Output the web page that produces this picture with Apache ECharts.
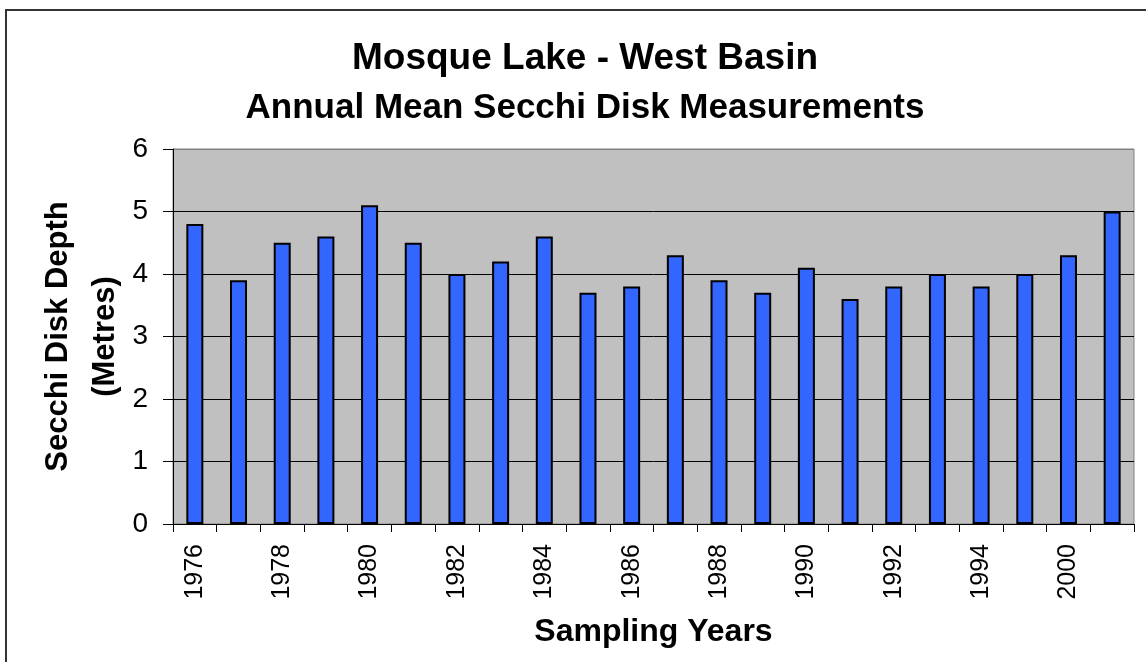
<!DOCTYPE html>
<html>
<head>
<meta charset="utf-8">
<title>Mosque Lake - West Basin</title>
<script src="https://cdn.jsdelivr.net/npm/echarts@6/dist/echarts.min.js"></script>
<style>
  html, body { margin: 0; padding: 0; background: #fff; }
  #chart { width: 1146px; height: 662px; }
</style>
</head>
<body>
<div id="chart"></div>
<script>
// sampling years (last one has no label on the axis)
const years = ['1976', '1977', '1978', '1979', '1980', '1981', '1982', '1983', '1984', '1985',
  '1986', '1987', '1988', '1989', '1990', '1991', '1992', '1993', '1994', '1995', '2000', '2001']
// annual mean secchi depth (m)
const depths = [4.8, 3.9, 4.5, 4.6, 5.1, 4.5, 4.0, 4.2, 4.6, 3.7,
  3.8, 4.3, 3.9, 3.7, 4.1, 3.6, 3.8, 4.0, 3.8, 4.0, 4.3, 5.0]
const yTicks = [0, 1, 2, 3, 4, 5, 6]

const font = "'Liberation Sans', Arial, sans-serif"
const chart = echarts.init(document.getElementById('chart'))

const option = {
  animation: false,
  backgroundColor: '#fff',
  // outer frame
  graphic: [{
    type: 'rect',
    shape: { x: 6, y: 10, width: 1200, height: 700 },
    style: { fill: 'none', stroke: '#333', lineWidth: 2 },
    silent: true
  }],
  title: {
    text: 'Mosque Lake - West Basin',
    subtext: 'Annual Mean Secchi Disk Measurements',
    left: 580,
    textAlign: 'center',
    top: 35,
    itemGap: 14,
    textStyle: { fontFamily: font, fontSize: 37, fontWeight: 'bold', color: '#000' },
    subtextStyle: { fontFamily: font, fontSize: 35, fontWeight: 'bold', color: '#000' }
  },
  grid: {
    left: 173,
    right: 12,
    top: 149,
    bottom: 138,
    show: true,
    backgroundColor: '#C0C0C0',
    borderColor: '#808080',
    borderWidth: 1
  },
  xAxis: {
    type: 'category',
    data: years,
    name: 'Sampling Years',
    nameLocation: 'middle',
    nameGap: 92,
    nameMoveOverlap: false,
    nameTextStyle: { fontFamily: font, fontSize: 32, fontWeight: 'bold', color: '#000' },
    axisLine: { lineStyle: { color: '#000', width: 1 } },
    axisTick: { show: true, interval: 0, length: 8, lineStyle: { color: '#000' } },
    axisLabel: {
      interval: 1,
      rotate: 90,
      margin: 20,
      fontFamily: font,
      fontSize: 25,
      color: '#000'
    }
  },
  yAxis: {
    type: 'value',
    min: yTicks[0],
    max: yTicks[yTicks.length - 1],
    interval: 1,
    name: 'Secchi Disk Depth\n(Metres)',
    nameLocation: 'middle',
    nameRotate: 90,
    nameGap: 44,
    nameMoveOverlap: false,
    nameTextStyle: { fontFamily: font, fontSize: 31, fontWeight: 'bold', color: '#000', lineHeight: 47 },
    axisLine: { show: true, lineStyle: { color: '#000', width: 1 } },
    axisTick: { show: true, length: 10, lineStyle: { color: '#000' } },
    axisLabel: { margin: 25, fontFamily: font, fontSize: 28, color: '#000' },
    splitLine: {
      show: true,
      lineStyle: { color: ['#000', '#000', '#000', '#000', '#000', '#000', '#808080'], width: 1 }
    }
  },
  series: [{
    type: 'bar',
    data: depths,
    barWidth: 17,
    itemStyle: { color: '#3366FF', borderColor: '#000', borderWidth: 2 }
  }]
}

chart.setOption(option)
</script>
</body>
</html>
